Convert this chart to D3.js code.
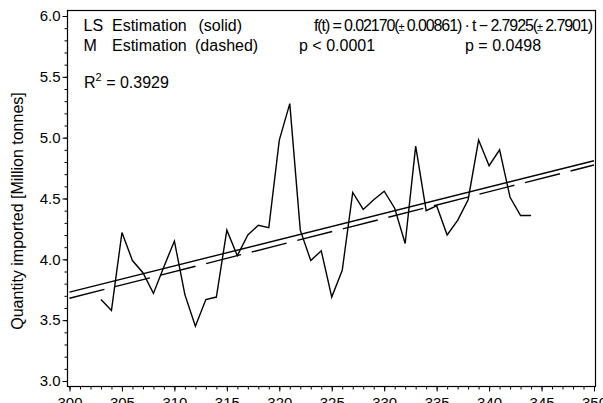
<!DOCTYPE html>
<html>
<head>
<meta charset="utf-8">
<script src="https://cdn.jsdelivr.net/npm/d3@7"></script>
<style>
  body { margin: 0; background: #fff; }
  svg { display: block; font-family: 'Liberation Sans', Arial, Helvetica, sans-serif; }
  .tick text { font-size: 15px; fill: #000; }
</style>
</head>
<body>
<svg id="chart" width="603" height="403"></svg>
<script>
// observed series (year index t, quantity in million tonnes)
const years = d3.range(303, 345);
const quantity = [
  3.67, 3.58, 4.22, 3.99, 3.89, 3.72, 3.94, 4.15, 3.71, 3.45,
  3.67, 3.69, 4.24, 4.03, 4.20, 4.28, 4.26, 4.98, 5.28, 4.24,
  3.99, 4.07, 3.69, 3.91, 4.55, 4.41, 4.49, 4.56, 4.42, 4.13,
  4.93, 4.40, 4.44, 4.20, 4.32, 4.49, 4.98, 4.77, 4.90, 4.51,
  4.36, 4.36
];

// fitted lines, end points
const lsLine = [[300, 3.73], [350, 4.81]];
const mLine = [[300, 3.68], [350, 4.775]];

const xTicks = d3.range(300, 351, 5);
const xMinor = d3.range(300, 351, 1);
const yTicks = [3.0, 3.5, 4.0, 4.5, 5.0, 5.5, 6.0];
const yMinor = d3.range(30, 61, 1).map(d => d / 10);

const yTitle = 'Quantity imported [Million tonnes]';

const svg = d3.select('#chart');

const x = d3.scaleLinear().domain([300, 350]).range([69.5, 594]);
const y = d3.scaleLinear().domain([3, 6]).range([381, 16]);

const frame = { left: 67.5, right: 595.5, top: 10.5, bottom: 386.5 };

// frame
svg.append('rect')
  .attr('x', frame.left)
  .attr('y', frame.top)
  .attr('width', frame.right - frame.left)
  .attr('height', frame.bottom - frame.top)
  .attr('fill', 'none')
  .attr('stroke', '#000')
  .attr('stroke-width', 1.2);

// x axis
const gx = svg.append('g')
  .attr('class', 'axis axis-x')
  .attr('transform', `translate(0,${frame.bottom})`);
gx.append('g')
  .call(d3.axisBottom(x).tickValues(xMinor).tickSize(3).tickFormat(''))
  .call(g => g.select('.domain').remove());
gx.append('g')
  .call(d3.axisBottom(x).tickValues(xTicks).tickSize(5).tickPadding(6)
    .tickFormat(d3.format('d')))
  .call(g => g.select('.domain').remove());

// y axis
const gy = svg.append('g')
  .attr('class', 'axis axis-y')
  .attr('transform', `translate(${frame.left},0)`);
gy.append('g')
  .call(d3.axisLeft(y).tickValues(yMinor).tickSize(3).tickFormat(''))
  .call(g => g.select('.domain').remove());
gy.append('g')
  .call(d3.axisLeft(y).tickValues(yTicks).tickSize(5).tickPadding(2)
    .tickFormat(d3.format('.1f')))
  .call(g => g.select('.domain').remove());

svg.selectAll('.tick line').attr('stroke', '#000');

svg.append('text')
  .attr('transform', `translate(23,211) rotate(-90)`)
  .attr('text-anchor', 'middle')
  .attr('font-size', 16)
  .text(yTitle);

// lines
const line = d3.line().x(d => x(d[0])).y(d => y(d[1]));

svg.append('path')
  .datum(lsLine)
  .attr('d', line)
  .attr('fill', 'none')
  .attr('stroke', '#000')
  .attr('stroke-width', 1.4);

svg.append('path')
  .datum(mLine)
  .attr('d', line)
  .attr('fill', 'none')
  .attr('stroke', '#000')
  .attr('stroke-width', 1.4)
  .attr('stroke-dasharray', '36,11');

svg.append('path')
  .datum(years.map((t, i) => [t, quantity[i]]))
  .attr('d', line)
  .attr('fill', 'none')
  .attr('stroke', '#000')
  .attr('stroke-width', 1.4)
  .attr('stroke-linejoin', 'miter');

// annotation
const note = svg.append('g').attr('font-size', 16).attr('fill', '#000');

function put(txt, px, py) {
  return note.append('text').attr('x', px).attr('y', py).text(txt);
}

put('LS', 83.5, 31);
put('Estimation', 112, 31);
put('(solid)', 198.5, 31);
put('M', 83.5, 51);
put('Estimation', 112, 51);
put('(dashed)', 195, 51);

const f = note.append('text').attr('x', 314).attr('y', 31)
  .attr('textLength', 279).attr('lengthAdjust', 'spacing');
f.append('tspan').text('f(t) = 0.02170(');
f.append('tspan').attr('font-size', 11).text('±');
f.append('tspan').text(' 0.00861) · t − 2.7925(');
f.append('tspan').attr('font-size', 11).text('±');
f.append('tspan').text(' 2.7901)');

put('p < 0.0001', 299, 51);
put('p = 0.0498', 465, 51);

const r = note.append('text').attr('x', 84).attr('y', 88);
r.append('tspan').text('R');
r.append('tspan').attr('font-size', 11).attr('dy', -7).text('2');
r.append('tspan').attr('dy', 7).text(' = 0.3929');
</script>
</body>
</html>
